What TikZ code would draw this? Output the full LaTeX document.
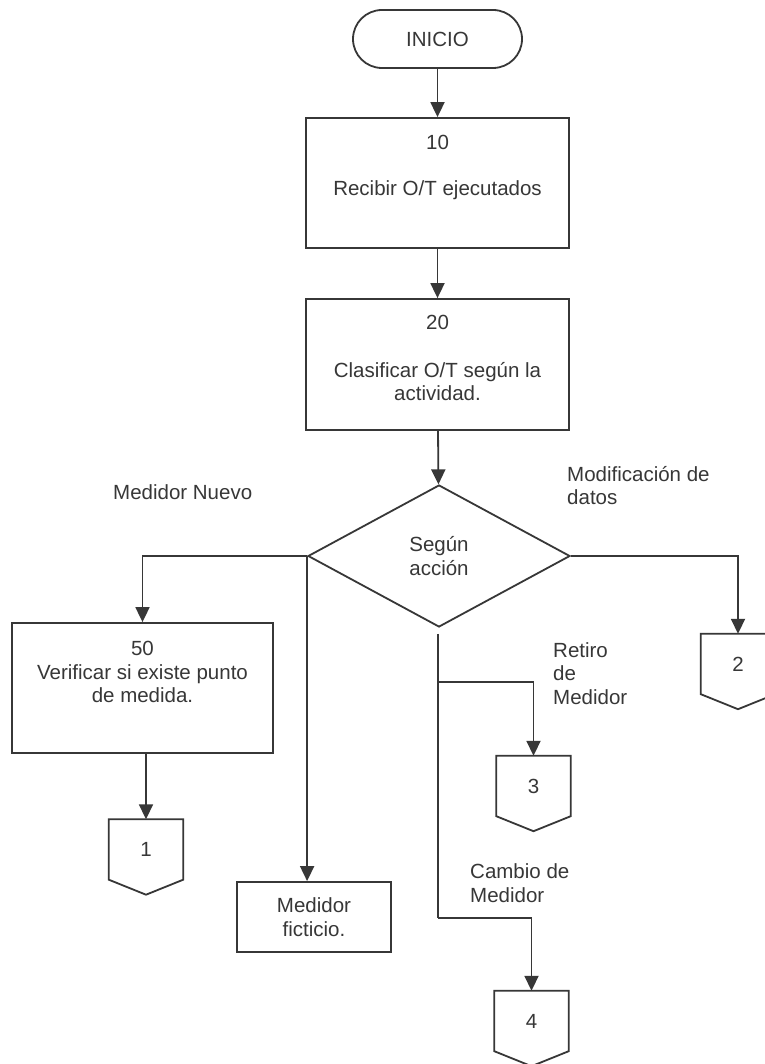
\documentclass[tikz,border=0pt]{standalone}
\usepackage{fontspec}
\setmainfont{Liberation Sans}
\usetikzlibrary{arrows.meta,shapes.geometric,calc}
\definecolor{ink}{RGB}{55,55,55}
\newcommand\drawoffpage[1]{%
  \draw[line,line join=miter] (#1.south west) -- (#1.north west) -- (#1.north east) -- (#1.south east) -- ($(#1.south)+(0,15)$) -- cycle;}
\begin{document}
\begin{tikzpicture}[x=1pt,y=-1pt,
  line/.style={draw=ink,line width=1.8pt},
  arr/.style={line,-{Triangle[length=15pt,width=14pt]}},
  box/.style={line,rectangle,inner sep=0pt},
  txt/.style={text=ink,font=\fontsize{20.5}{23.8}\selectfont,inner sep=0pt,align=center},
  ltxt/.style={txt,align=left,anchor=west},
  conn/.style={txt,minimum width=74pt,minimum height=60pt}
]
\fill[white] (0,0) rectangle (764,1064);
\useasboundingbox (0,0) rectangle (764,1064);

% terminator
\node[line,txt,rectangle,rounded corners=29pt,minimum width=169pt,minimum height=58pt] (start) at (437.5,39) {INICIO};

% process boxes
\node[box,minimum width=263pt,minimum height=130pt] (b10) at (437.5,183) {};
\node[txt] (t10a) at (437.5,142) {10};
\node[txt] (t10b) at (437.5,190) {Recibir O/T ejecutados};

\node[box,minimum width=263pt,minimum height=131pt] (b20) at (437.5,364.5) {};
\node[txt] (t20a) at (437.5,322) {20};
\node[txt] (t20b) at (437.5,381.5) {Clasificar O/T según la\\actividad.};

% decision
\node[line,txt,diamond,minimum width=262pt,minimum height=142pt] (dec) at (439,556) {Según\\acción};

% box 50
\node[box,minimum width=261pt,minimum height=130pt] (b50) at (142.5,688) {};
\node[txt] (t50) at (142.5,672) {50\\Verificar si existe punto\\de medida.};

% medidor ficticio
\node[box,txt,minimum width=154pt,minimum height=70pt] (fict) at (314,917) {Medidor\\ficticio.};

% off-page connectors
\node[conn] (c1) at (146,849.5) {1};
\node[conn] (c2) at (738,664) {2};
\node[conn] (c3) at (533.5,786) {3};
\node[conn] (c4) at (531.5,1021) {4};
\drawoffpage{c1}
\drawoffpage{c2}
\drawoffpage{c3}
\drawoffpage{c4}

% labels
\node[ltxt] (lnuevo) at (113,492) {Medidor Nuevo};
\node[ltxt] (lmod) at (567,485.5) {Modificación de\\datos};
\node[ltxt] (lret) at (553,673.5) {Retiro\\de\\Medidor};
\node[ltxt] (lcam) at (470,883.5) {Cambio de\\Medidor};

% connectors
\draw[arr] (start) -- (b10);
\draw[arr] (b10) -- (b20);
\draw[arr] (b20) -- (dec);
\draw[arr] (dec.west) -| (b50.north);
\draw[arr] (dec.west) -- (dec.west |- fict.north);
\draw[arr] (dec.east) -| (c2.north);
\coordinate (bstart) at ($(dec.south)+(-1,6)$);
\coordinate (bmid) at (bstart |- 0,682);
\coordinate (blow) at (bstart |- 0,918);
\draw[line] (bstart) -- (blow);
\draw[arr] (bmid) -| (c3.north);
\draw[arr] (blow) -| (c4.north);
\draw[arr] (b50.south -| c1.north) -- (c1.north);
\end{tikzpicture}
\end{document}
